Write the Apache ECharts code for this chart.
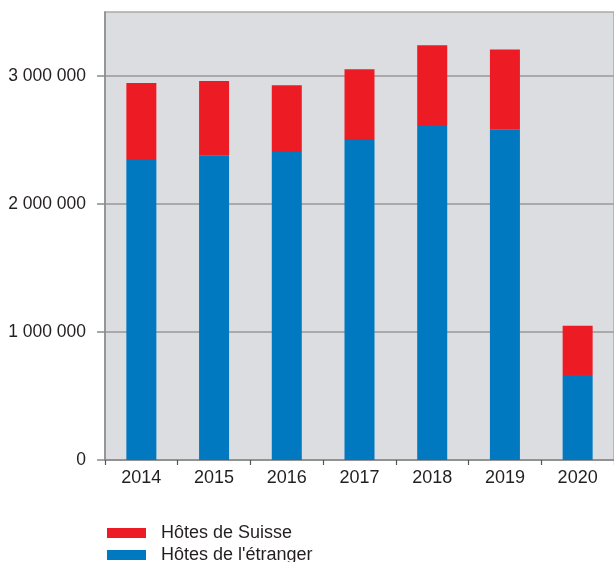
<!DOCTYPE html>
<html>
<head>
<meta charset="utf-8">
<script src="https://cdn.jsdelivr.net/npm/echarts@6/dist/echarts.min.js"></script>
<style>
  html, body { margin: 0; padding: 0; background: #fff; }
  #chart { width: 614px; height: 562px; }
</style>
</head>
<body>
<div id="chart"></div>
<script>
// values
var years = ["2014", "2015", "2016", "2017", "2018", "2019", "2020"];
var etranger = [2344000, 2377000, 2406000, 2500000, 2609000, 2580000, 664000];
var suisse = [601000, 584000, 521000, 552000, 631000, 628000, 385000];
var yTicks = [0, 1000000, 2000000, 3000000];

var font = "'Liberation Sans', Arial, sans-serif";
var txt = "#231f20";

function fmt(v) {
    return String(v).replace(/\B(?=(\d{3})+(?!\d))/g, " ");
}

var myChart = echarts.init(document.getElementById("chart"));
myChart.setOption({
    animation: false,
    textStyle: { fontFamily: font },
    grid: {
        left: 105,
        right: -4,
        top: 12,
        bottom: 102,
        show: true,
        backgroundColor: "#dcdde0",
        borderColor: "#a9a9a9",
        borderWidth: 1.5
    },
    legend: {
        orient: "vertical",
        left: 107,
        bottom: -2,
        padding: 0,
        itemWidth: 39,
        itemHeight: 10,
        itemGap: 4,
        icon: "rect",
        data: ["Hôtes de Suisse", "Hôtes de l'étranger"],
        textStyle: { fontFamily: font, fontSize: 18, color: txt, padding: [0, 0, 0, 10] }
    },
    xAxis: {
        type: "category",
        data: years,
        axisLine: { lineStyle: { color: "#8a8a8a", width: 1.5 } },
        axisTick: { show: true, length: 5, lineStyle: { color: "#555", width: 1.2 } },
        axisLabel: { fontSize: 18, color: txt, margin: 9, fontFamily: font }
    },
    yAxis: {
        type: "value",
        min: 0,
        max: 3500000,
        interval: 1000000,
        axisLine: { show: true, lineStyle: { color: "#8a8a8a", width: 1.5 } },
        axisTick: { show: true, length: 8, customValues: yTicks, lineStyle: { color: "#8a8a8a", width: 1.5 } },
        axisLabel: {
            fontSize: 17.5, color: txt, margin: 19, fontFamily: font,
            customValues: yTicks,
            formatter: fmt
        },
        splitLine: { show: true, lineStyle: { color: "#a9a9a9", width: 2 } }
    },
    series: [
        {
            name: "Hôtes de l'étranger",
            type: "bar",
            stack: "total",
            barWidth: 30,
            itemStyle: { color: "#0079c1" },
            data: etranger
        },
        {
            name: "Hôtes de Suisse",
            type: "bar",
            stack: "total",
            barWidth: 30,
            itemStyle: { color: "#ed1c24" },
            data: suisse
        }
    ]
});
</script>
</body>
</html>
